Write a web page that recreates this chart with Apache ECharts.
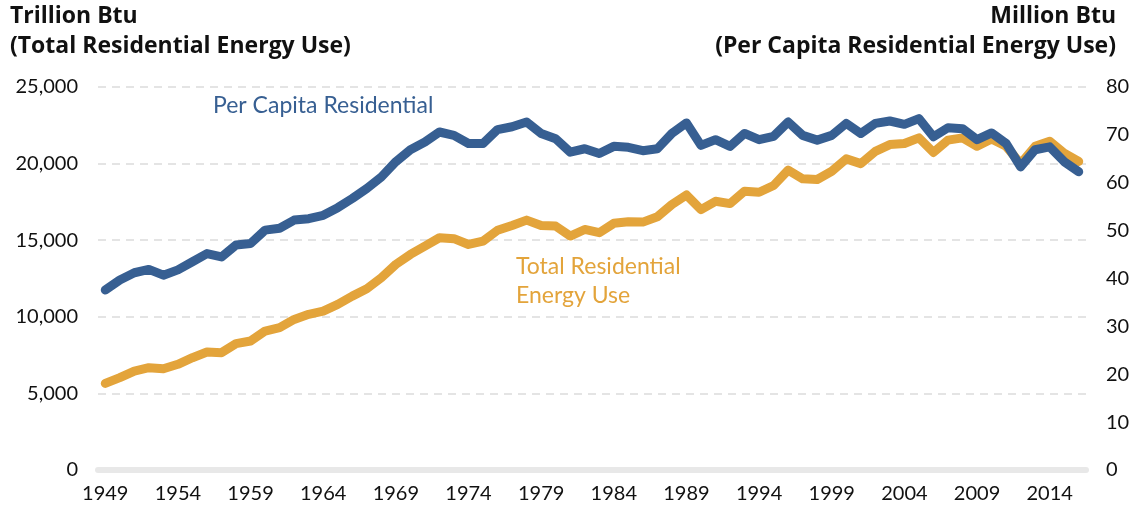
<!DOCTYPE html>
<html>
<head>
<meta charset="utf-8">
<script src="https://cdn.jsdelivr.net/npm/echarts@6/dist/echarts.min.js"></script>
<style>
  html, body { margin: 0; padding: 0; background: #fff; }
  #chart { width: 1138px; height: 514px; }
</style>
</head>
<body>
<div id="chart"></div>
<script>
// years 1949..2016
const years = []
for (let y = 1949; y <= 2016; y++) years.push(String(y))

// total residential energy use, trillion Btu (left axis)
const totalUse = [
  5650, 6030, 6460, 6680, 6610, 6900, 7330, 7700, 7660, 8250,
  8420, 9070, 9290, 9830, 10160, 10370, 10810, 11350, 11830, 12550,
  13420, 14070, 14610, 15160, 15100, 14720, 14940, 15650, 15960, 16310,
  15960, 15920, 15270, 15700, 15490, 16100, 16200, 16180, 16530, 17330,
  17950, 17000, 17540, 17390, 18200, 18130, 18570, 19570, 19010, 18960,
  19500, 20310, 20000, 20800, 21240, 21310, 21680, 20730, 21530, 21680,
  21130, 21610, 21130, 20000, 21130, 21460, 20680, 20140
]

// per capita residential energy use, million Btu (right axis)
const perCapita = [
  37.6, 39.7, 41.2, 41.9, 40.7, 41.8, 43.5, 45.2, 44.5, 47.0,
  47.3, 50.1, 50.5, 52.2, 52.5, 53.2, 54.8, 56.7, 58.8, 61.2,
  64.4, 66.9, 68.5, 70.6, 69.9, 68.2, 68.2, 71.1, 71.7, 72.7,
  70.3, 69.2, 66.4, 67.1, 66.1, 67.6, 67.4, 66.7, 67.1, 70.3,
  72.5, 67.8, 69.0, 67.6, 70.3, 69.0, 69.7, 72.7, 69.9, 68.9,
  69.9, 72.4, 70.3, 72.4, 72.9, 72.2, 73.4, 69.6, 71.5, 71.3,
  69.0, 70.4, 68.2, 63.3, 66.9, 67.5, 64.4, 62.3
]

const blue = '#375F92'
const orange = '#E3A43B'
const font = 'Lato, "Open Sans", sans-serif'
const headFont = 'bold 23px "Open Sans", Lato, sans-serif'

const chart = echarts.init(document.getElementById('chart'))
chart.setOption({
  animation: false,
  grid: { left: 98, right: 52, top: 87, bottom: 44 },
  xAxis: {
    type: 'category',
    data: years,
    axisTick: { show: false },
    axisLine: { lineStyle: { color: '#E8E8E8', width: 6 } },
    axisLabel: { interval: 4, margin: 14, color: '#111', fontSize: 20, fontFamily: font }
  },
  yAxis: [
    {
      type: 'value',
      min: 0,
      max: 25000,
      interval: 5000,
      axisLine: { show: false },
      axisTick: { show: false },
      axisLabel: {
        margin: 20,
        color: '#111',
        fontSize: 20,
        fontFamily: font,
        formatter: v => v.toLocaleString('en-US')
      },
      splitLine: { lineStyle: { color: '#DCDCDC', width: 1.5, type: [8, 6] } }
    },
    {
      type: 'value',
      min: 0,
      max: 80,
      interval: 10,
      axisLine: { show: false },
      axisTick: { show: false },
      axisLabel: { margin: 20, color: '#111', fontSize: 20, fontFamily: font },
      splitLine: { show: false }
    }
  ],
  series: [
    {
      name: 'Total Residential Energy Use',
      type: 'line',
      yAxisIndex: 0,
      data: totalUse,
      showSymbol: false,
      lineStyle: { color: orange, width: 9, cap: 'round', join: 'round' }
    },
    {
      name: 'Per Capita Residential',
      type: 'line',
      yAxisIndex: 1,
      data: perCapita,
      showSymbol: false,
      lineStyle: { color: blue, width: 9, cap: 'round', join: 'round' }
    }
  ],
  graphic: [
    {
      type: 'text', left: 10, top: 5,
      style: { text: 'Trillion Btu', fill: '#111', font: headFont }
    },
    {
      type: 'text', left: 10, top: 35,
      style: { text: '(Total Residential Energy Use)', fill: '#111', font: headFont }
    },
    {
      type: 'text', right: 22, top: 5,
      style: { text: 'Million Btu', fill: '#111', font: headFont }
    },
    {
      type: 'text', right: 22, top: 35,
      style: { text: '(Per Capita Residential Energy Use)', fill: '#111', font: headFont }
    },
    {
      type: 'text', left: 213, top: 94,
      style: { text: 'Per Capita Residential', fill: blue, font: '23px ' + font }
    },
    {
      type: 'text', left: 516, top: 252,
      style: { text: 'Total Residential\nEnergy Use', fill: orange, font: '23px ' + font, lineHeight: 29 }
    }
  ]
})
</script>
</body>
</html>
